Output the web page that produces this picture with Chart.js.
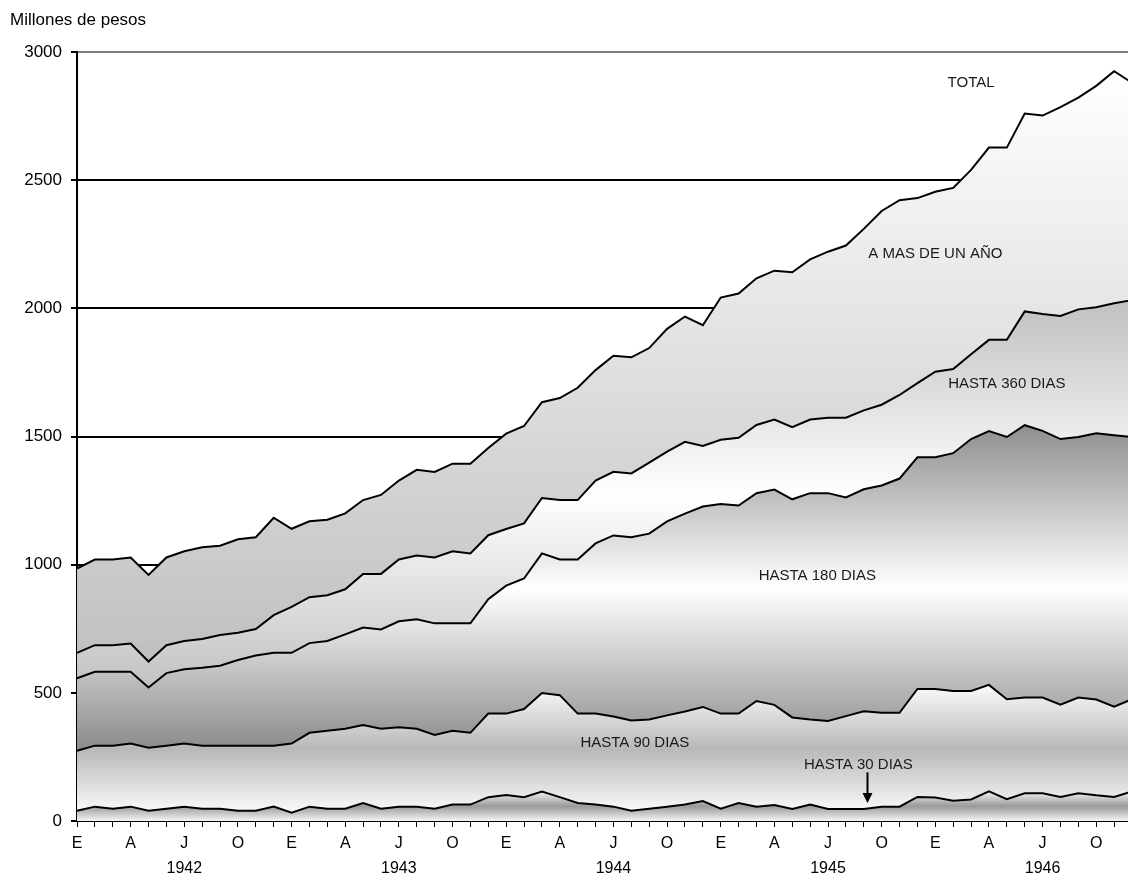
<!DOCTYPE html>
<html>
<head>
<meta charset="utf-8">
<script src="https://cdn.jsdelivr.net/npm/chart.js@4.4.0/dist/chart.umd.min.js"></script>
<style>
  html, body { margin: 0; padding: 0; background: #fff; overflow: hidden; }
  #wrap { width: 1136px; height: 877px; }
</style>
</head>
<body>
<div id="wrap"><canvas id="myChart"></canvas></div>
<script>
var years = ['1942', '1943', '1944', '1945', '1946']
var monthLetters = ['E', 'F', 'M', 'A', 'M', 'J', 'J', 'A', 'S', 'O', 'N', 'D']

// saldos acumulados por plazo (millones de pesos), cada serie incluye las de menor plazo
var hasta30 = [40, 56, 48, 56, 40, 48, 56, 48, 48, 40, 40, 56,
    32, 56, 48, 48, 70, 48, 56, 56, 48, 64, 64, 93,
    101, 93, 115, 93, 70, 64, 56, 40, 48, 56, 64, 78,
    48, 70, 56, 62, 47, 64, 47, 47, 47, 56, 56, 94,
    92, 79, 84, 116, 85, 108, 108, 94, 108, 100, 94, 115]
var hasta90 = [274, 294, 294, 302, 286, 294, 302, 294, 294, 294, 294, 294,
    302, 344, 352, 360, 374, 360, 366, 360, 336, 352, 344, 419,
    419, 437, 499, 491, 419, 419, 408, 392, 396, 412, 427, 445,
    419, 419, 468, 453, 404, 396, 390, 409, 428, 422, 422, 515,
    515, 507, 507, 531, 475, 482, 482, 454, 482, 474, 446, 475]
var hasta180 = [557, 582, 582, 582, 521, 577, 592, 598, 606, 628, 646, 656,
    656, 694, 702, 728, 755, 747, 779, 787, 771, 771, 771, 865,
    918, 946, 1044, 1020, 1020, 1083, 1114, 1107, 1121, 1169, 1199, 1227,
    1237, 1231, 1279, 1293, 1255, 1279, 1279, 1262, 1294, 1309, 1336, 1419,
    1419, 1435, 1490, 1521, 1498, 1544, 1522, 1490, 1498, 1513, 1505, 1498]
var hasta360 = [656, 686, 686, 692, 622, 686, 702, 710, 726, 734, 749, 803,
    835, 873, 881, 904, 964, 964, 1020, 1036, 1028, 1052, 1044, 1115,
    1139, 1161, 1260, 1252, 1252, 1328, 1362, 1356, 1398, 1441, 1479, 1463,
    1487, 1495, 1545, 1566, 1536, 1566, 1573, 1573, 1602, 1624, 1662, 1708,
    1753, 1763, 1821, 1877, 1877, 1988, 1978, 1970, 1996, 2004, 2020, 2032]
var total = [985, 1020, 1020, 1028, 960, 1028, 1052, 1068, 1074, 1099, 1107, 1183,
    1140, 1169, 1175, 1200, 1252, 1272, 1328, 1370, 1362, 1394, 1394, 1455,
    1511, 1541, 1634, 1650, 1690, 1759, 1815, 1809, 1845, 1920, 1968, 1934,
    2042, 2058, 2117, 2147, 2141, 2191, 2221, 2245, 2310, 2380, 2422, 2430,
    2455, 2470, 2540, 2627, 2627, 2760, 2752, 2785, 2822, 2868, 2925, 2880]

var labelList = []
years.forEach(function (y) {
    monthLetters.forEach(function (m) { labelList.push(m + ' ' + y) })
})

// textos dentro del grafico: posicion en mes (indice) y valor
var bandLabels = [
    { text: 'TOTAL', index: 50, value: 2880 },
    { text: 'A MAS DE UN AÑO', index: 48, value: 2212 },
    { text: 'HASTA 360 DIAS', index: 52, value: 1705 },
    { text: 'HASTA 180 DIAS', index: 41.4, value: 956 },
    { text: 'HASTA 90 DIAS', index: 31.2, value: 304 },
    { text: 'HASTA 30 DIAS', index: 43.7, value: 218 }
]
var arrow30 = { index: 44.2, from: 190, to: 70 }

// degradado vertical sobre la altura que ocupa cada franja
function bandFill(lower, upper, stops) {
    return function (context) {
        var chart = context.chart
        if (!chart.chartArea) return '#cccccc'
        var y = chart.scales.y
        var lo = lower ? Math.min.apply(null, lower) : 0
        var hi = Math.max.apply(null, upper)
        var g = chart.ctx.createLinearGradient(0, y.getPixelForValue(hi), 0, y.getPixelForValue(lo))
        stops.forEach(function (s) { g.addColorStop(s[0], s[1]) })
        return g
    }
}

function serie(label, data, fill, bg) {
    return {
        label: label,
        data: data,
        fill: fill,
        backgroundColor: bg,
        borderColor: '#000',
        borderWidth: 2,
        pointRadius: 0,
        tension: 0
    }
}

var textos = {
    id: 'textos',
    afterDraw: function (chart) {
        var ctx = chart.ctx
        var x = chart.scales.x
        var y = chart.scales.y
        ctx.save()
        ctx.fillStyle = '#000'
        ctx.font = '17px "Liberation Sans", Arial, sans-serif'
        ctx.textBaseline = 'middle'
        ctx.textAlign = 'left'
        ctx.fillText('Millones de pesos', 10, 20)

        ctx.font = '15px "Liberation Sans", Arial, sans-serif'
        ctx.fillStyle = '#1a1a1a'
        ctx.textAlign = 'center'
        bandLabels.forEach(function (l) {
            ctx.fillText(l.text, x.getPixelForValue(l.index), y.getPixelForValue(l.value))
        })

        // flecha hacia la franja de 30 dias
        var ax = Math.round(x.getPixelForValue(arrow30.index)) + 0.5
        var y0 = y.getPixelForValue(arrow30.from)
        var y1 = y.getPixelForValue(arrow30.to)
        ctx.strokeStyle = '#000'
        ctx.lineWidth = 2
        ctx.beginPath()
        ctx.moveTo(ax, y0)
        ctx.lineTo(ax, y1 - 9)
        ctx.stroke()
        ctx.fillStyle = '#000'
        ctx.beginPath()
        ctx.moveTo(ax - 5, y1 - 10)
        ctx.lineTo(ax + 5, y1 - 10)
        ctx.lineTo(ax, y1)
        ctx.closePath()
        ctx.fill()
        ctx.restore()
    }
}

var fontFamily = '"Liberation Sans", Arial, sans-serif'

new Chart("myChart", {
    type: 'line',
    data: {
        labels: labelList,
        datasets: [
            serie('Hasta 30 dias', hasta30, 'origin',
                bandFill(null, hasta30, [[0, '#f4f4f4'], [0.5, '#9a9a9a'], [1, '#f4f4f4']])),
            serie('Hasta 90 dias', hasta90, '-1',
                bandFill(hasta30, hasta90, [[0, '#fbfbfb'], [0.5, '#b8b8b8'], [1, '#fbfbfb']])),
            serie('Hasta 180 dias', hasta180, '-1',
                bandFill(hasta90, hasta180, [[0, '#8e8e8e'], [0.5, '#ffffff'], [1, '#8a8a8a']])),
            serie('Hasta 360 dias', hasta360, '-1',
                bandFill(hasta180, hasta360, [[0, '#c0c0c0'], [0.5, '#ffffff'], [1, '#c2c2c2']])),
            serie('Total', total, '-1',
                bandFill(hasta360, total, [[0, '#ffffff'], [1, '#c0c0c0']]))
        ]
    },
    options: {
        responsive: true,
        maintainAspectRatio: false,
        animation: false,
        layout: { padding: { top: 52, left: 0, right: 0, bottom: 0 } },
        plugins: {
            legend: { display: false },
            tooltip: { enabled: false }
        },
        scales: {
            x: {
                type: 'category',
                offset: false,
                afterFit: function (axis) { axis.height = 56 },
                grid: { drawOnChartArea: false, drawTicks: true, tickLength: 6, tickColor: '#000', lineWidth: 1 },
                border: { display: true, color: '#000', width: 2 },
                ticks: {
                    autoSkip: false,
                    maxRotation: 0,
                    padding: 4,
                    color: '#000',
                    font: { family: fontFamily, size: 16, lineHeight: 1.55 },
                    callback: function (value, index) {
                        if (index % 3 !== 0) return ''
                        var m = monthLetters[index % 12]
                        if (index % 12 === 6) return [m, years[Math.floor(index / 12)]]
                        return m
                    }
                }
            },
            y: {
                min: 0,
                max: 3000,
                afterFit: function (axis) { axis.width = 77 },
                grid: {
                    color: function (ctx) { return ctx.tick && ctx.tick.value === 3000 ? '#808080' : '#000' },
                    lineWidth: 2,
                    tickLength: 6,
                    tickColor: '#000'
                },
                border: { display: true, color: '#000', width: 2 },
                ticks: {
                    stepSize: 500,
                    padding: 9,
                    color: '#000',
                    font: { family: fontFamily, size: 17 },
                    callback: function (value) { return String(value) }
                }
            }
        }
    },
    plugins: [textos]
});
</script>
</body>
</html>
